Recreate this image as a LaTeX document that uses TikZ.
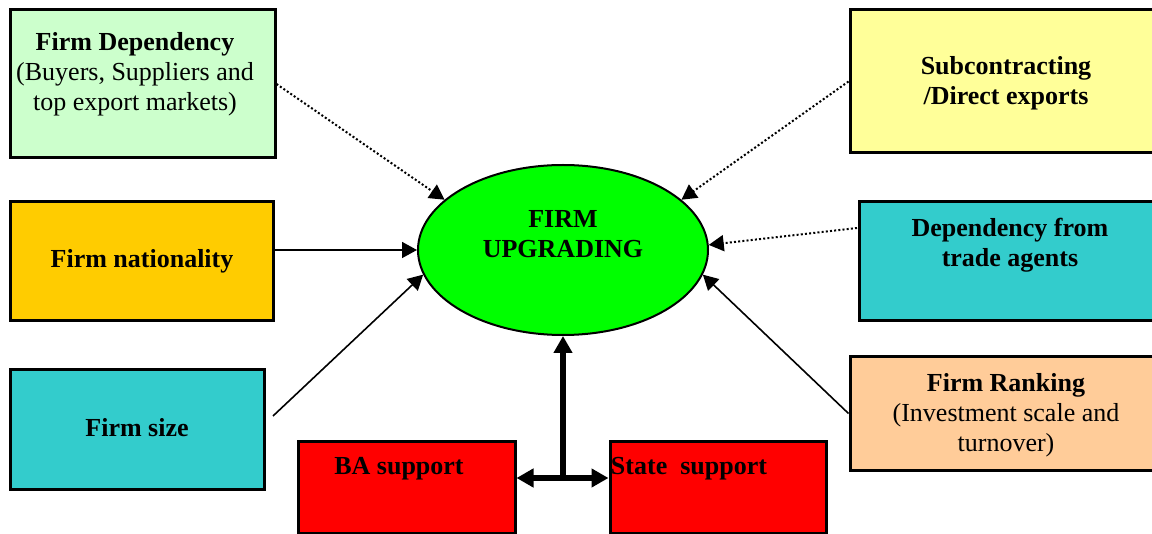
\documentclass[tikz,border=0pt]{standalone}
\usepackage{fontspec}
\setmainfont{Liberation Serif}
\usetikzlibrary{arrows.meta,fit,shapes.geometric,calc}

\definecolor{palegreen}{HTML}{CCFFCC}
\definecolor{gold}{HTML}{FFCC00}
\definecolor{teal}{HTML}{33CCCC}
\definecolor{paleyellow}{HTML}{FFFF99}
\definecolor{peach}{HTML}{FFCC99}
\definecolor{boxred}{HTML}{FF0000}
\definecolor{brightgreen}{HTML}{00FF00}

\tikzset{
  box/.style={draw=black, line width=1.5pt, inner sep=0pt, rectangle},
  txt/.style={align=center, inner sep=0pt, font=\fontsize{13}{15}\selectfont},
  smalltip/.tip={Triangle[length=7.5pt,width=8pt]},
  bigtip/.tip={Triangle[length=8.5pt,width=9pt]},
  link/.style={-smalltip, line width=0.8pt},
  dotlink/.style={-smalltip, line width=1pt, dash pattern=on 1pt off 1.1pt},
  strong/.style={line width=2.6pt}
}

\begin{document}
\begin{tikzpicture}[x=0.5pt,y=-0.5pt]
\useasboundingbox (0,0) rectangle (1152,534);
\clip (0,0) rectangle (1152,534);

% factor boxes
\node[box, fill=palegreen,  fit={(10,10) (275,158)}]   (fd) {};
\node[box, fill=gold,       fit={(10,202) (273,321)}]  (fn) {};
\node[box, fill=teal,       fit={(10,370) (264,489)}]  (fs) {};
\node[box, fill=boxred,     fit={(298,441) (515,533)}] (ba) {};
\node[box, fill=boxred,     fit={(610,441) (826,533)}] (ss) {};
\node[box, fill=paleyellow, fit={(850,10) (1170,153)}] (sd) {};
\node[box, fill=teal,       fit={(859,202) (1170,321)}] (dt) {};
\node[box, fill=peach,      fit={(850,357) (1170,470)}] (fr) {};

% central ellipse
\node[ellipse, draw=black, line width=1pt, fill=brightgreen, inner sep=0pt,
      minimum width=145pt, minimum height=85pt] (up) at (563,250) {};

% box texts
\node[txt] (fdt) at (135,74) {\textbf{Firm Dependency}\\(Buyers, Suppliers and\\top export markets)};
\node[txt] (fnt) at (142,261) {\textbf{Firm nationality}};
\node[txt] (fst) at (137,428) {\textbf{Firm size}};
\node[txt] (bat) at (399,469) {\textbf{BA support}};
\node[txt] (sst) at (689,469) {\textbf{State\ \ support}};
\node[txt] (sdt) at (1006,83) {\textbf{Subcontracting}\\\textbf{/Direct exports}};
\node[txt] (dtt) at (1010,245) {\textbf{Dependency from}\\\textbf{trade agents}};
\node[txt] (frt) at (1006,415) {\textbf{Firm Ranking}\\(Investment scale and\\turnover)};
\node[txt] (upt) at (563,234) {\textbf{FIRM}\\\textbf{UPGRADING}};

% connector ends
\coordinate (fsout) at (273,416);
\coordinate (dtout) at (857,228);
\coordinate (jn) at (563,478);

% left connectors
\draw[dotlink] (fd.east) -- (up.157);
\draw[link] (fn.east |- up.west) -- (up.west);
\draw[link] (fsout) -- (up.190);

% right connectors
\draw[dotlink] (sd.west) -- (up.23);
\draw[dotlink] (dtout) -- (up.2);
\draw[link] (fr.west) -- (up.-10);

% support links
\draw[strong, -bigtip] (jn) -- (up.south);
\draw[strong, bigtip-bigtip] (ba.east |- jn) -- (ss.west |- jn);
\end{tikzpicture}
\end{document}
